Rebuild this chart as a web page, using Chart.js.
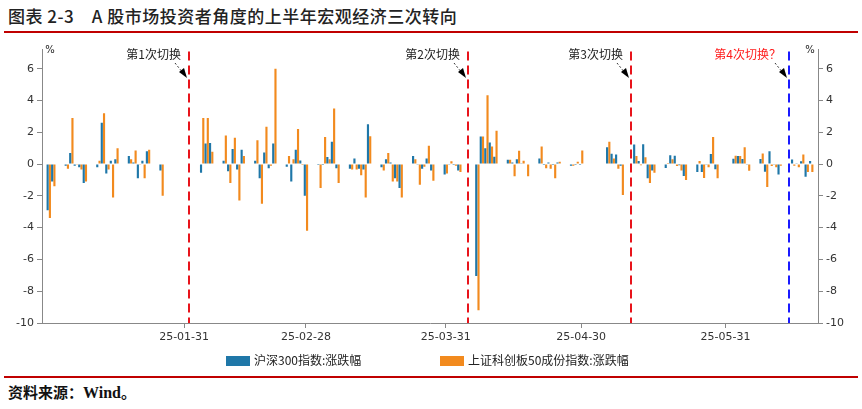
<!DOCTYPE html>
<html><head><meta charset="utf-8">
<script src="https://cdn.jsdelivr.net/npm/chart.js@4"></script>
<style>
body{margin:0;background:#fff;font-family:"Noto Sans CJK SC",sans-serif;}
#wrap{position:relative;width:862px;height:409px;overflow:hidden;}
#title{position:absolute;left:8px;top:3px;font-size:17px;font-weight:500;color:#222;letter-spacing:0.5px;}
.rl{position:absolute;left:4px;width:854px;height:2px;background:#c00000;}
#src{position:absolute;left:8px;top:381px;font-size:15px;font-weight:bold;color:#111;}
#src span{font-family:"Liberation Serif",serif;font-size:16px;}
#box{position:absolute;left:0;top:40px;width:862px;height:312px;}
.lg{position:absolute;top:351px;font-size:12px;color:#222;}
.lg i{display:inline-block;width:24px;height:10px;margin-right:4px;vertical-align:-1px;}
</style></head><body>
<div id="wrap">
<div id="title">图表 2-3　A 股市场投资者角度的上半年宏观经济三次转向</div>
<div class="rl" style="top:31px"></div>
<div id="box"><canvas id="c"></canvas></div>
<div class="lg" style="left:226px"><i style="background:#1f77a8"></i>沪深300指数:涨跌幅</div>
<div class="lg" style="left:440px"><i style="background:#f28a1e"></i>上证科创板50成份指数:涨跌幅</div>
<div class="rl" style="top:376px"></div>
<div id="src">资料来源：<span>Wind</span>。</div>
</div>
<script>
// trading days and daily change (%)
const tradeDays = ['01-02','01-03','01-06','01-07','01-08','01-09','01-10','01-13','01-14','01-15','01-16','01-17','01-20','01-21','01-22','01-23','01-24','01-27',
 '02-05','02-06','02-07','02-10','02-11','02-12','02-13','02-14','02-17','02-18','02-19','02-20','02-21','02-24','02-25','02-26','02-27','02-28',
 '03-03','03-04','03-05','03-06','03-07','03-10','03-11','03-12','03-13','03-14','03-17','03-18','03-19','03-20','03-21','03-24','03-25','03-26','03-27','03-28','03-31',
 '04-01','04-02','04-03','04-07','04-08','04-09','04-10','04-11','04-14','04-15','04-16','04-17','04-18','04-21','04-22','04-23','04-24','04-25','04-28','04-29','04-30',
 '05-06','05-07','05-08','05-09','05-12','05-13','05-14','05-15','05-16','05-19','05-20','05-21','05-22','05-23','05-26','05-27','05-28','05-29','05-30',
 '06-03','06-04','06-05','06-06','06-09','06-10','06-11','06-12','06-13','06-16','06-17','06-18','06-19','06-20'];
const hs300 = [-2.9,-1.1,-0.1,0.7,-0.1,-0.2,-1.2,-0.2,2.6,-0.6,0.2,0.3,0.5,0.1,-0.9,0.2,0.8,-0.4,
 -0.55,1.3,1.33,0.2,-0.45,0.95,-0.35,0.9,0.2,-0.9,0.73,-0.27,1.3,-0.17,-1.1,0.9,0.23,-2.0,
 -0.06,-0.06,0.44,1.4,-0.27,-0.3,0.35,-0.3,-0.35,2.5,-0.2,0.3,0.1,-0.9,-1.5,0.5,-0.04,-0.3,0.35,-0.4,-0.65,
 -0.04,-0.06,-0.4,-7.05,1.73,1.0,1.35,0.46,0.27,0.1,0.3,0.05,0.04,0.35,-0.06,0.1,-0.06,0.1,-0.1,-0.06,-0.06,
 1.05,0.65,0.6,-0.1,1.23,0.19,1.25,-0.9,-0.4,-0.25,0.56,0.52,-0.08,-0.75,-0.5,-0.5,-0.05,0.63,-0.33,
 0.33,0.5,0.31,-0.05,0.31,-0.48,0.8,-0.05,-0.65,0.29,0.02,0.17,-0.8,0.19];
const star50 = [-3.4,-1.4,-0.3,2.9,-0.05,-0.35,-1.1,0.2,3.2,-0.35,-2.1,1.0,0.3,0.85,-0.05,-0.9,0.9,-2.0,
 2.9,2.9,0.77,1.8,-1.2,1.65,-2.3,0.5,1.5,-2.5,2.35,-0.1,6.0,0.5,0.3,2.2,-0.06,-4.2,
 -1.5,1.7,0.3,3.5,-1.2,-0.35,-0.35,-0.7,-2.1,1.75,-0.4,0.7,-1.1,-1.1,-2.1,0.3,-1.3,-0.17,1.15,-1.05,-0.6,
 0.17,-0.1,-0.5,-9.2,1.73,4.33,1.1,2.1,0.27,-0.77,0.83,0.2,-0.77,1.1,-0.27,-0.3,-0.9,0.15,-0.1,0.15,0.85,
 1.4,0.35,-0.3,-1.95,0.5,-0.08,0.42,-1.2,-0.55,0.06,0.3,-0.12,-0.4,-1.0,0.19,-0.88,-0.2,1.7,-0.9,
 0.52,0.5,1.06,-0.42,0.67,-1.45,-0.12,-0.2,-0.1,-0.1,-0.2,0.6,-0.5,-0.5];
const xTickDays = ['02-01','02-28','03-31','04-30','06-01'];
const xTickLabels = ['25-01-31','25-02-28','25-03-31','25-04-30','25-05-31'];
const yTicks = [-10,-8,-6,-4,-2,0,2,4,6];
const switches = [
  {day:'02-02', text:'第1次切换', color:'#e8141b'},
  {day:'04-05', text:'第2次切换', color:'#e8141b'},
  {day:'05-11', text:'第3次切换', color:'#e8141b'},
  {day:'06-15', text:'第4次切换？', color:'#1a1aff'}
];

// calendar days Jan 1 .. Jun 21
const days = [];
for (let d = new Date(Date.UTC(2025,0,1)); d <= new Date(Date.UTC(2025,5,21)); d.setUTCDate(d.getUTCDate()+1)) {
  days.push(String(d.getUTCMonth()+1).padStart(2,'0') + '-' + String(d.getUTCDate()).padStart(2,'0'));
}
const fill = arr => days.map(k => { const i = tradeDays.indexOf(k); return i < 0 ? null : arr[i]; });

const switchPlugin = {
  id: 'switches',
  afterDatasetsDraw(chart) {
    const {ctx, chartArea, scales:{x}} = chart;
    ctx.save();
    switches.forEach(s => {
      const px = Math.round(x.getPixelForValue(days.indexOf(s.day)));
      ctx.strokeStyle = s.color; ctx.lineWidth = 2; ctx.setLineDash([9,5]);
      ctx.beginPath(); ctx.moveTo(px, chartArea.top + 2); ctx.lineTo(px, chartArea.bottom); ctx.stroke();
      ctx.setLineDash([]);
      ctx.font = '12px "Noto Sans CJK SC"';
      ctx.fillStyle = s.color === '#1a1aff' ? '#ff1a1a' : '#222';
      ctx.textAlign = 'right'; ctx.textBaseline = 'middle';
      ctx.fillText(s.text, px - 8, 14);
      ctx.strokeStyle = '#333'; ctx.lineWidth = 1; ctx.setLineDash([2,2]);
      ctx.beginPath(); ctx.moveTo(px - 14, 23); ctx.lineTo(px - 6, 33); ctx.stroke();
      ctx.setLineDash([]); ctx.fillStyle = '#000';
      ctx.beginPath(); ctx.moveTo(px - 2, 38); ctx.lineTo(px - 10, 32); ctx.lineTo(px - 5, 28); ctx.closePath(); ctx.fill();
    });
    ctx.font = '10px "DejaVu Sans"'; ctx.fillStyle = '#222'; ctx.textAlign = 'center';
    ctx.fillText('%', chartArea.left + 8, 10);
    ctx.fillText('%', chartArea.right - 8, 10);
    ctx.restore();
  }
};

const yAxis = pos => ({
  position: pos, min: -10, max: 7.2,
  afterBuildTicks: s => { s.ticks = yTicks.map(v => ({value: v})); },
  afterFit: s => { s.width = pos === 'left' ? 42 : 44; },
  grid: {drawOnChartArea: false, tickLength: 5, color: '#888'},
  border: {color: '#888'},
  ticks: {color: '#333', font: {size: 11, family: 'DejaVu Sans'}, padding: 3}
});

new Chart(document.getElementById('c'), {
  type: 'bar',
  data: {
    labels: days,
    datasets: [
      {label: '沪深300指数:涨跌幅', data: fill(hs300), backgroundColor: '#1f77a8', yAxisID: 'y'},
      {label: '上证科创板50成份指数:涨跌幅', data: fill(star50), backgroundColor: '#f28a1e', yAxisID: 'y'}
    ]
  },
  options: {
    responsive: true, maintainAspectRatio: false, animation: false,
    layout: {padding: {top: 4}},
    datasets: {bar: {barPercentage: 0.95, categoryPercentage: 1, skipNull: true}},
    scales: {
      x: {
        grid: {drawOnChartArea: false, offset: false, tickLength: 5, color: '#888'},
        border: {color: '#888'},
        afterBuildTicks: s => { s.ticks = xTickDays.map(k => ({value: days.indexOf(k)})); },
        afterFit: s => { s.height = 29; },
        ticks: {autoSkip: false, maxRotation: 0, color: '#333', font: {size: 11, family: 'DejaVu Sans'},
          callback: (v, i) => xTickLabels[i]}
      },
      y: yAxis('left'),
      y2: yAxis('right')
    },
    plugins: {legend: {display: false}, tooltip: {enabled: false}}
  },
  plugins: [switchPlugin]
});
</script>
</body></html>
